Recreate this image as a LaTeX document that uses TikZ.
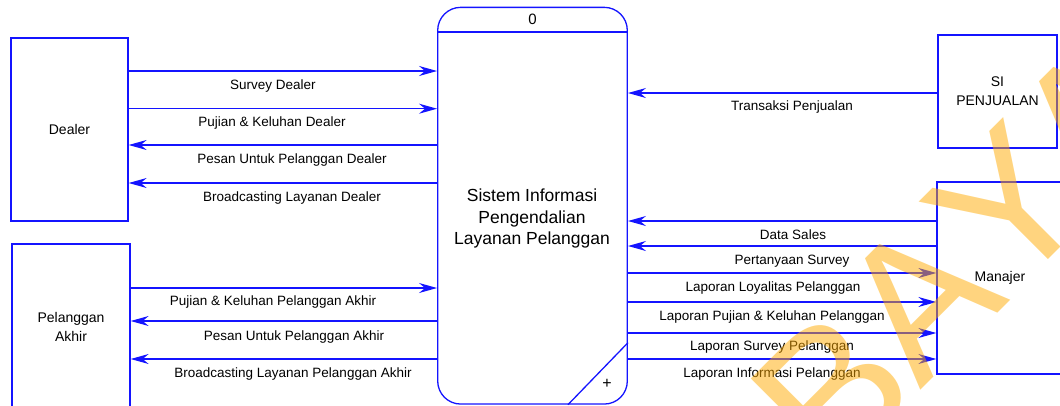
\documentclass[tikz,border=0pt]{standalone}
\usepackage{fontspec}
\setmainfont{Liberation Sans}
\usetikzlibrary{arrows.meta,calc}
\definecolor{dfdblue}{RGB}{20,20,255}
\definecolor{wmorange}{RGB}{255,170,0}

\begin{document}
\begin{tikzpicture}[x=1pt,y=-1pt,
  box/.style={draw=dfdblue, line width=1.3pt, inner sep=0pt, align=center,
    font=\fontsize{14}{19}\selectfont},
  txt/.style={inner sep=0pt, align=center, font=\fontsize{14}{19}\selectfont},
  flow/.style={draw=dfdblue, line width=1.3pt,
    -{Stealth[length=18pt,width=10pt,inset=6pt]}},
  lbl/.style={inner sep=0pt, font=\fontsize{13.5}{16}\selectfont},
  wm/.style={inner sep=0pt, text=wmorange, text opacity=0.5, rotate=45,
    font=\fontsize{20}{20}\selectfont, scale=9.6, transform shape},
]
\useasboundingbox (0,0) rectangle (1060,405);

% external entities
\node[box, minimum width=117pt, minimum height=183pt] (dealer) at (69.5,129.5) {Dealer};
\node[box, minimum width=118pt, minimum height=166pt] (akhir) at (71,327) {Pelanggan\\Akhir};
\node[box, minimum width=119pt, minimum height=113pt] (sipj) at (997.5,91.5) {SI\\PENJUALAN};
\node[box, minimum width=126pt, minimum height=192pt] (manajer) at (1000,278) {Manajer};

% process
\node[box, rounded corners=23pt, minimum width=189.6pt, minimum height=396.7pt] (proc) at (532.5,205.7) {};
\coordinate (hdr) at (0,32);
\draw[dfdblue, line width=1.3pt] (proc.west |- hdr) -- (proc.east |- hdr);
\node[txt, font=\fontsize{15}{18}\selectfont] (procid) at (532.5,19) {0};
\node[txt, font=\fontsize{17.5}{21.5}\selectfont] (proctext) at (532,218.5)
  {Sistem Informasi\\Pengendalian\\Layanan Pelanggan};
\draw[dfdblue, line width=1.3pt] ($(proc.south east)+(0,-62)$) -- ($(proc.south east)+(-60,0)$);
\node[txt, font=\fontsize{16}{18}\selectfont] (plus) at (607,384) {+};

% flow rows
\foreach \n/\y in {r1/71, r2/108.7, r3/145, r4/183, r5/288, r6/321, r7/359,
                   s1/93, s2/221, s3/246, s4/273, s5/302, s6/333, s7/359}
  \coordinate (\n) at (0,\y);

% Dealer flows
\draw[flow] (dealer.east |- r1) -- (proc.west |- r1);
\draw[flow] (dealer.east |- r2) -- (proc.west |- r2);
\draw[flow] (proc.west |- r3) -- (dealer.east |- r3);
\draw[flow] (proc.west |- r4) -- (dealer.east |- r4);
\node[lbl] (l1) at (273,86) {Survey Dealer};
\node[lbl] (l2) at (272,123) {Pujian \& Keluhan Dealer};
\node[lbl] (l3) at (292,160) {Pesan Untuk Pelanggan Dealer};
\node[lbl] (l4) at (292,198) {Broadcasting Layanan Dealer};

% Pelanggan Akhir flows
\draw[flow] (akhir.east |- r5) -- (proc.west |- r5);
\draw[flow] (proc.west |- r6) -- (akhir.east |- r6);
\draw[flow] (proc.west |- r7) -- (akhir.east |- r7);
\node[lbl] (l5) at (273,302) {Pujian \& Keluhan Pelanggan Akhir};
\node[lbl] (l6) at (294,337) {Pesan Untuk Pelanggan Akhir};
\node[lbl] (l7) at (293,374) {Broadcasting Layanan Pelanggan Akhir};

% SI Penjualan flow
\draw[flow] (sipj.west |- s1) -- (proc.east |- s1);
\node[lbl] (m1) at (792,107) {Transaksi Penjualan};

% Manajer flows
\draw[flow] (manajer.west |- s2) -- (proc.east |- s2);
\draw[flow] (manajer.west |- s3) -- (proc.east |- s3);
\draw[flow] (proc.east |- s4) -- (manajer.west |- s4);
\draw[flow] (proc.east |- s5) -- (manajer.west |- s5);
\draw[flow] (proc.east |- s6) -- (manajer.west |- s6);
\draw[flow] (proc.east |- s7) -- (manajer.west |- s7);
\node[lbl] (m2) at (793,235) {Data Sales};
\node[lbl] (m3) at (792,261) {Pertanyaan Survey};
\node[lbl] (m4) at (773,288) {Laporan Loyalitas Pelanggan};
\node[lbl] (m5) at (772,317) {Laporan Pujian \& Keluhan Pelanggan};
\node[lbl] (m6) at (772,347) {Laporan Survey Pelanggan};
\node[lbl] (m7) at (772,374) {Laporan Informasi Pelanggan};

% watermark letters, set one by one along the diagonal
\node[wm] (wmB)  at (832,392) {B};
\node[wm] (wmA)  at (919,299) {A};
\node[wm] (wmY)  at (1008,207) {Y};
\node[wm] (wmA2) at (1093,122) {A};
\end{tikzpicture}
\end{document}
